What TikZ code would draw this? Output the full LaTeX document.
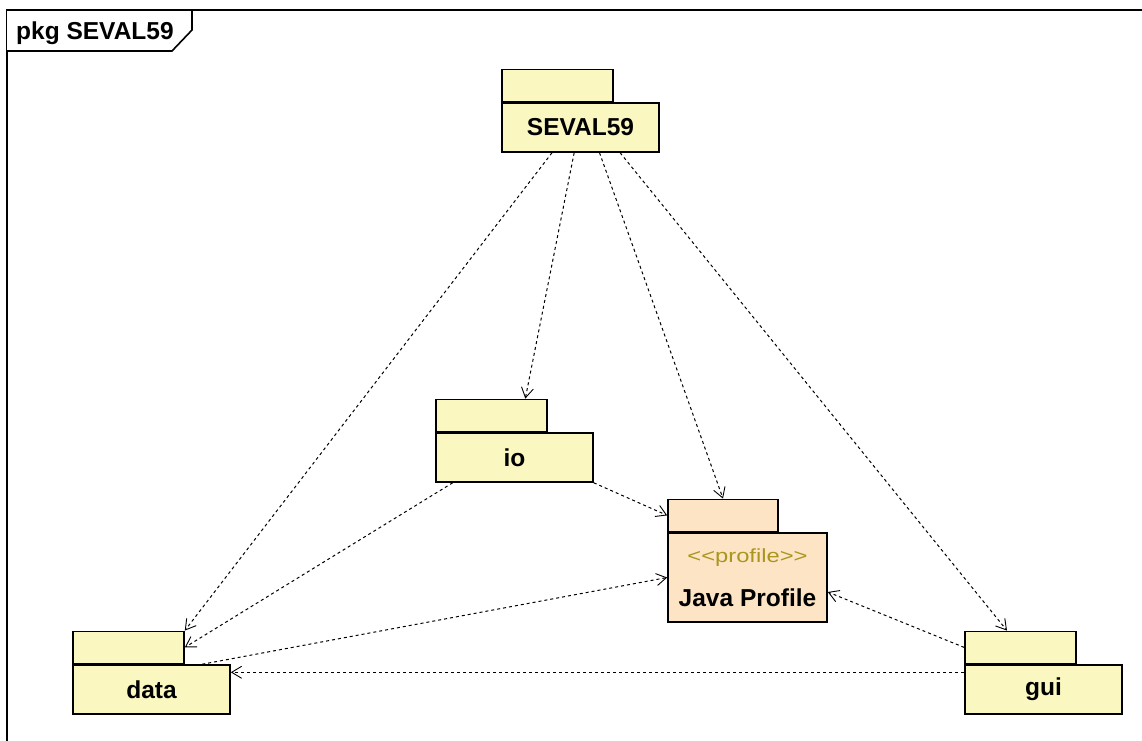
\documentclass[tikz,border=0pt]{standalone}
\usepackage{fontspec}
\setmainfont{Liberation Sans}
\newfontfamily\stereofont{Liberation Sans}[FakeStretch=1.25]
\usetikzlibrary{positioning,calc,arrows.meta}

\definecolor{pkgyellow}{RGB}{250,248,192}
\definecolor{pkgpeach}{RGB}{253,228,197}
\definecolor{stereo}{RGB}{170,150,30}

\tikzset{
  pkgbody/.style={draw, line width=1.6pt, fill=pkgyellow, minimum width=157pt,
    minimum height=49pt, inner sep=0pt, font=\fontsize{24.5}{28}\selectfont\bfseries},
  pkgtab/.style={draw, line width=1.6pt, fill=pkgyellow, minimum width=111pt,
    minimum height=32pt, inner sep=0pt},
  dep/.style={line width=1pt, dash pattern=on 3pt off 3pt,
    -{Straight Barb[length=10pt,width=12pt,line width=0.9pt]}}
}

\begin{document}
\begin{tikzpicture}[x=1pt, y=-1pt]
    \useasboundingbox (0,0) rectangle (1142,740);
    \clip (0,0) rectangle (1142,740);

    % Draw the package frame and its name tab
    \draw[line width=2pt] (7,760) -- (7,10) -- (1160,10);
    \draw[line width=1.6pt, fill=white] (7,10) -- (192,10) -- (192,30) -- (172,51) -- (7,51);
    \node[anchor=base west, inner sep=0pt, font=\fontsize{24.5}{28}\selectfont\bfseries]
        (title) at (16,39) {pkg SEVAL59};

    % Draw the packages
    \node[pkgbody] (seval) at (580.5,127.5) {SEVAL59};
    \node[pkgtab, above right=0pt of seval.north west] (sevaltab) {};

    \node[pkgbody] (io) at (514.5,457.5) {io};
    \node[pkgtab, above right=0pt of io.north west] (iotab) {};

    \node[pkgbody, fill=pkgpeach, minimum width=159pt, minimum height=89pt, align=center]
        (java) at (747.5,577.5)
        {\textcolor{stereo}{\stereofont\mdseries\fontsize{19}{22}\selectfont <\kern0pt<profile>\kern0pt>}\\[16pt]Java Profile};
    \node[pkgtab, fill=pkgpeach, minimum width=110pt, above right=0pt of java.north west] (javatab) {};

    \node[pkgbody] (data) at (151.5,689.5) {data};
    \node[pkgtab, above right=0pt of data.north west] (datatab) {};

    \node[pkgbody] (gui) at (1043.5,689.5) {gui};
    \node[pkgtab, above right=0pt of gui.north west] (guitab) {};

    % Draw the dependencies of SEVAL59
    \draw[dep] ($(seval.south west)!0.32!(seval.south east)$) -- (datatab.north east);
    \draw[dep] ($(seval.south west)!0.46!(seval.south east)$) -- ($(iotab.north west)!0.8!(iotab.north east)$);
    \draw[dep] ($(seval.south west)!0.62!(seval.south east)$) -- (javatab.north);
    \draw[dep] ($(seval.south west)!0.75!(seval.south east)$) -- ($(guitab.north west)!0.38!(guitab.north east)$);

    % Draw the dependencies of io, data and gui
    \draw[dep] ($(io.south west)!0.11!(io.south east)$) -- (datatab.east);
    \draw[dep] (io.south east) -- (javatab.west);
    \draw[dep] ($(data.north west)!0.82!(data.north east)$) -- (java.west);
    \draw[dep] (guitab.west) -- ($(java.north east)!0.66!(java.south east)$);
    \draw[dep] ($(gui.north west)!0.16!(gui.south west)$) -- ($(data.north east)!0.16!(data.south east)$);

\end{tikzpicture}
\end{document}
